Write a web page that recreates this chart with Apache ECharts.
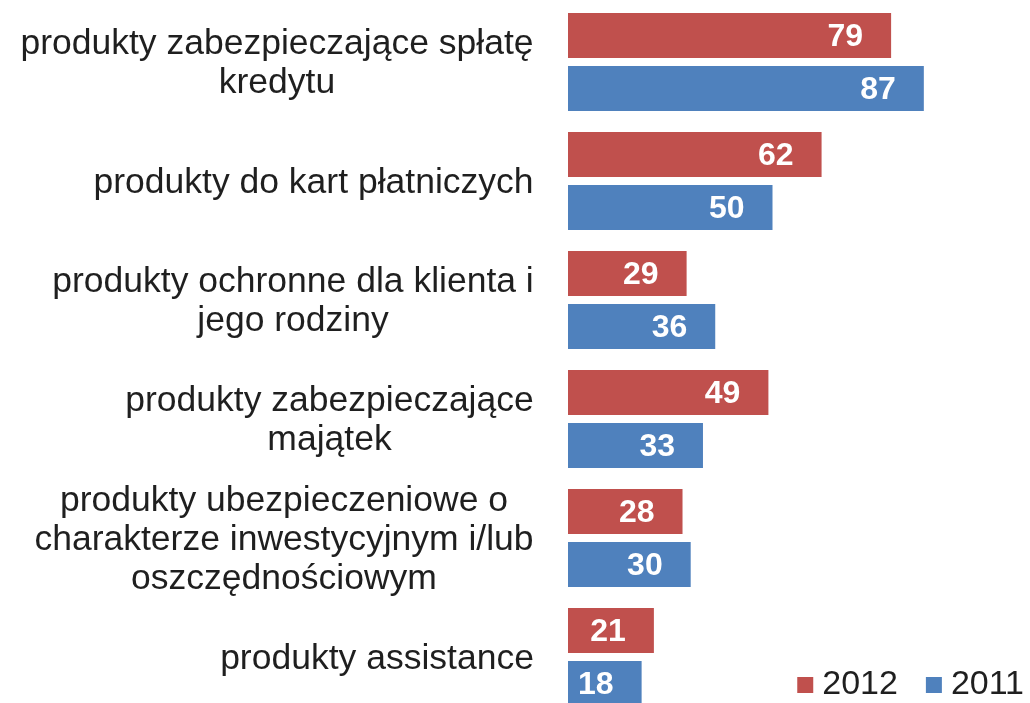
<!DOCTYPE html>
<html>
<head>
<meta charset="utf-8">
<script src="https://cdn.jsdelivr.net/npm/echarts@6/dist/echarts.min.js"></script>
<style>
  html, body { margin: 0; padding: 0; background: #fff; overflow: hidden; }
  #chart { width: 1030px; height: 720px; }
</style>
</head>
<body>
<div id="chart"></div>
<script>
// kategorie (od góry)
const categories = [
  'produkty zabezpieczające spłatę\nkredytu',
  'produkty do kart płatniczych',
  'produkty ochronne dla klienta i\njego rodziny',
  'produkty zabezpieczające\nmajątek',
  'produkty ubezpieczeniowe o\ncharakterze inwestycyjnym i/lub\noszczędnościowym',
  'produkty assistance'
]
const values2012 = [79, 62, 29, 49, 28, 21]
const values2011 = [87, 50, 36, 33, 30, 18]

const labelFont = 'Liberation Sans'
const labelSize = 35.5

// szerokość najdłuższej linii każdej etykiety -> linie wyśrodkowane w bloku
const ctx = document.createElement('canvas').getContext('2d')
ctx.font = labelSize + 'px "' + labelFont + '"'
const rich = {}
categories.forEach((c, i) => {
  const w = Math.max(...c.split('\n').map(l => ctx.measureText(l).width))
  rich['c' + i] = {
    width: Math.ceil(w) + 2,
    align: 'center',
    fontSize: labelSize,
    lineHeight: 39,
    fontFamily: labelFont,
    color: '#1f1f1f',
    padding: [4, 0, 0, 0]
  }
})

const chart = echarts.init(document.getElementById('chart'))

const barLabel = {
  show: true,
  position: 'insideRight',
  distance: 28,
  color: '#fff',
  fontSize: 32,
  fontWeight: 'bold',
  fontFamily: labelFont,
  offset: [0, 2]
}

chart.setOption({
  animation: false,
  textStyle: { fontFamily: labelFont },
  grid: { left: 568, right: 53, top: 2.5, bottom: 3.5 },
  legend: {
    data: ['2012', '2011'],
    right: 1,
    top: 663,
    icon: 'rect',
    itemWidth: 16,
    itemHeight: 16,
    itemGap: 28,
    textStyle: { fontSize: 34, color: '#1f1f1f', fontFamily: labelFont, padding: [0, 0, 0, 4] }
  },
  xAxis: {
    type: 'value',
    min: 0,
    max: 100,
    show: false,
    splitLine: { show: false }
  },
  yAxis: {
    type: 'category',
    inverse: true,
    data: categories,
    axisLine: { show: false },
    axisTick: { show: false },
    axisLabel: {
      margin: 33,
      formatter: (v, i) => v.split('\n').map(l => '{c' + i + '|' + l + '}').join('\n'),
      rich: rich
    }
  },
  series: [
    {
      name: '2012',
      type: 'bar',
      data: values2012,
      barWidth: 45,
      barGap: '18%',
      itemStyle: { color: '#C0504D' },
      label: barLabel
    },
    {
      name: '2011',
      type: 'bar',
      data: values2011,
      barWidth: 45,
      barGap: '18%',
      itemStyle: { color: '#4F81BD' },
      label: barLabel
    }
  ]
})
</script>
</body>
</html>
